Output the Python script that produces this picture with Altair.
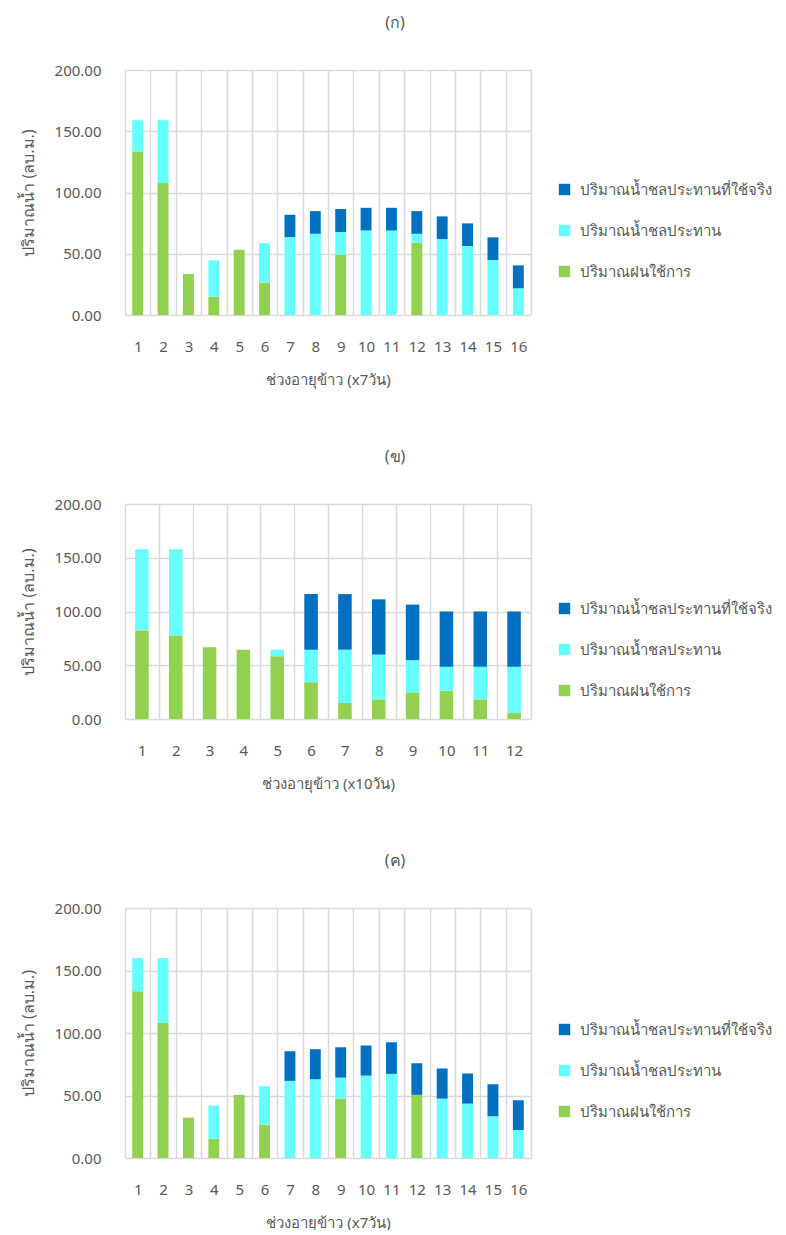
import altair as alt
import pandas as pd

# Series names (legend order: top of stack first)
SERIES_ACTUAL = "ปริมาณน้ำชลประทานที่ใช้จริง"
SERIES_IRR = "ปริมาณน้ำชลประทาน"
SERIES_RAIN = "ปริมาณฝนใช้การ"

COLORS = ["#0070C0", "#66FFFF", "#92D050"]

Y_TITLE = "ปริมาณน้ำ (ลบ.ม.)"

# Panel (ก): weekly periods (x7 days)
periods_a = list(range(1, 17))
rain_a = [133.5, 107.7, 33.4, 15.0, 53.3, 26.4, 0, 0, 49.2, 0, 0, 59.0, 0, 0, 0, 0]
irr_a = [25.5, 51.3, 0, 29.6, 0, 32.3, 63.6, 66.3, 18.5, 69.0, 69.0, 7.3, 62.0, 56.3, 44.9, 21.8]
actual_a = [0, 0, 0, 0, 0, 0, 18.2, 18.5, 18.8, 18.5, 18.5, 18.5, 18.5, 18.5, 18.5, 18.7]

# Panel (ข): 10-day periods (x10 days)
periods_b = list(range(1, 13))
rain_b = [82.3, 77.7, 66.7, 64.5, 58.4, 34.2, 15.0, 18.3, 24.8, 26.3, 18.3, 5.5]
irr_b = [75.5, 80.1, 0, 0, 6.1, 30.3, 49.5, 41.6, 29.9, 22.3, 30.3, 43.1]
actual_b = [0, 0, 0, 0, 0, 51.7, 51.7, 51.4, 51.7, 51.4, 51.4, 51.4]

# Panel (ค): weekly periods (x7 days)
periods_c = list(range(1, 17))
rain_c = [133.5, 108.1, 32.3, 15.5, 50.5, 26.7, 0, 0, 47.5, 0, 0, 50.5, 0, 0, 0, 0]
irr_c = [26.4, 51.8, 0, 26.4, 0, 30.7, 61.7, 63.0, 16.8, 65.9, 67.3, 0, 47.5, 43.5, 33.4, 22.4]
actual_c = [0, 0, 0, 0, 0, 0, 23.7, 24.0, 24.3, 24.1, 25.3, 25.3, 24.1, 24.1, 25.6, 23.8]

FONT = "Noto Sans"
GRAY = "#595959"
GRID = "#d9d9d9"


def long_table(periods, rain, irr, actual):
    rows = []
    for i, p in enumerate(periods):
        rows.append({"period": p, "series": SERIES_RAIN, "value": rain[i], "rank": 0})
        rows.append({"period": p, "series": SERIES_IRR, "value": irr[i], "rank": 1})
        rows.append({"period": p, "series": SERIES_ACTUAL, "value": actual[i], "rank": 2})
    return pd.DataFrame(rows)


def panel(df, title, x_title, height, bar_frac, legend_y):
    return (
        alt.Chart(df)
        .mark_bar(width=alt.RelativeBandSize(bar_frac))
        .encode(
            x=alt.X(
                "period:O",
                title=x_title,
                scale=alt.Scale(paddingInner=0, paddingOuter=0),
                axis=alt.Axis(
                    labelAngle=0,
                    labelFontSize=15,
                    labelColor=GRAY,
                    labelPadding=24,
                    ticks=False,
                    domain=False,
                    grid=True,
                    gridColor=GRID,
                    gridWidth=1.5,
                    tickBand="extent",
                    titleFontSize=15,
                    titleFontWeight="normal",
                    titleColor=GRAY,
                    titlePadding=18,
                ),
            ),
            y=alt.Y(
                "value:Q",
                title=Y_TITLE,
                stack="zero",
                scale=alt.Scale(domain=[0, 200], nice=False),
                axis=alt.Axis(
                    values=[0, 50, 100, 150, 200],
                    format=".2f",
                    labelFontSize=15,
                    labelColor=GRAY,
                    labelPadding=24,
                    ticks=False,
                    domain=False,
                    grid=True,
                    gridColor=GRID,
                    gridWidth=1.5,
                    titleFontSize=16,
                    titleFontWeight="normal",
                    titleColor=GRAY,
                    titlePadding=18,
                ),
            ),
            color=alt.Color(
                "series:N",
                scale=alt.Scale(
                    domain=[SERIES_ACTUAL, SERIES_IRR, SERIES_RAIN], range=COLORS
                ),
                legend=alt.Legend(
                    title=None,
                    orient="none",
                    legendX=432,
                    legendY=legend_y,
                    symbolType="square",
                    symbolSize=130,
                    symbolStrokeWidth=0,
                    labelFontSize=15,
                    labelColor=GRAY,
                    labelLimit=400,
                    rowPadding=25,
                    labelOffset=8,
                ),
            ),
            order=alt.Order("rank:Q", sort="ascending"),
        )
        .properties(
            width=406,
            height=height,
            title=alt.TitleParams(
                title,
                fontSize=16,
                fontWeight="normal",
                color=GRAY,
                anchor="middle",
                frame="group",
                dx=67,
                offset=32,
            ),
        )
    )


chart_a = panel(long_table(periods_a, rain_a, irr_a, actual_a), "(ก)",
                "ช่วงอายุข้าว (x7วัน)", 245, 0.43, 112)
chart_b = panel(long_table(periods_b, rain_b, irr_b, actual_b), "(ข)",
                "ช่วงอายุข้าว (x10วัน)", 215, 0.40, 97)
chart_c = panel(long_table(periods_c, rain_c, irr_c, actual_c), "(ค)",
                "ช่วงอายุข้าว (x7วัน)", 250, 0.43, 114)

chart = (
    alt.vconcat(chart_a, chart_b, chart_c, spacing=62)
    .resolve_scale(color="independent", x="independent")
    .resolve_legend(color="independent")
    .properties(padding={"left": 20, "top": 15, "right": 0, "bottom": 0})
    .configure(font=FONT)
    .configure_view(stroke=None)
)

chart.save("out.html", embed_options={"renderer": "svg", "actions": False})
